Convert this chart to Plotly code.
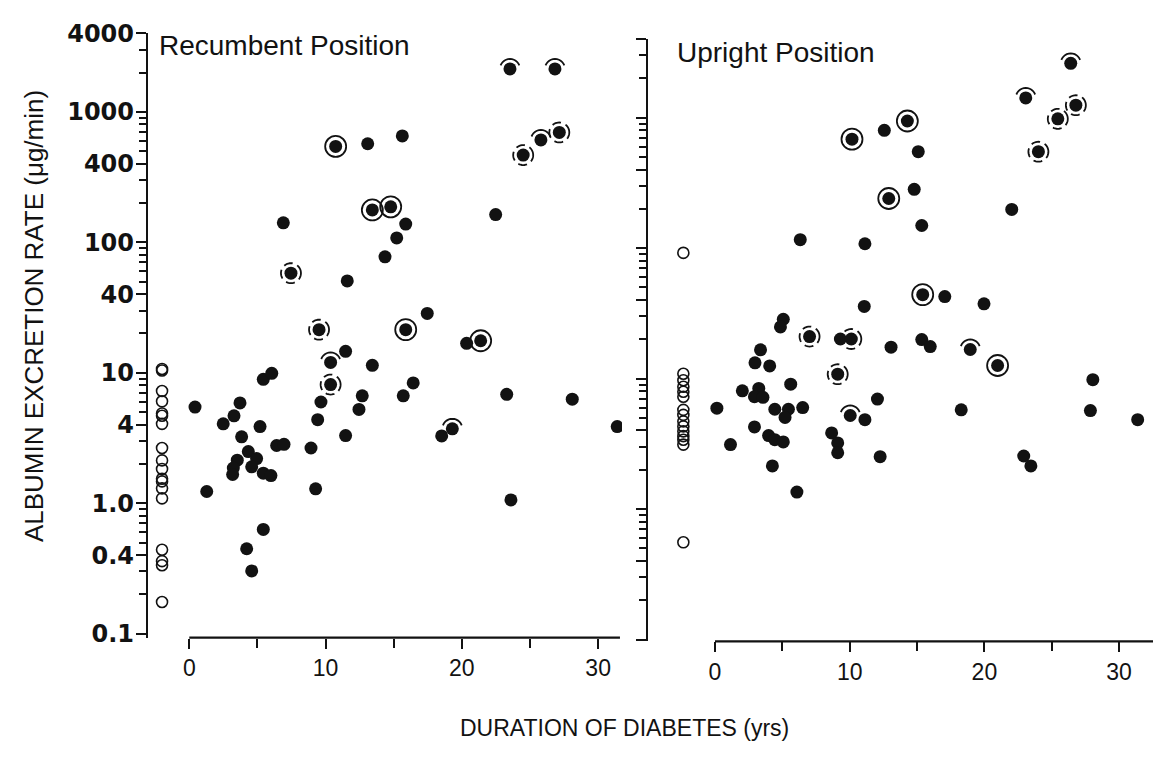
import numpy as np
import plotly.graph_objects as go

# ---------------- data ----------------
# Recumbent position (left panel): duration (yrs), albumin excretion rate (ug/min), marker kind
# kinds: S = plain dot, R = dot with full ring, D = dot with broken ring, A = dot with arc above
rec_years = [23.53, 26.83, 10.74, 13.09, 15.63, 24.50, 25.80, 27.15, 13.43, 14.78,
             6.90, 15.88, 15.22, 14.36, 22.48, 7.46, 11.59, 17.46, 9.52, 15.88,
             20.35, 21.38, 11.47, 10.37, 13.43, 10.37, 16.43, 15.70, 23.29, 28.10,
             12.69, 9.66, 12.45, 9.42, 11.47, 19.30, 18.52, 31.40, 8.93, 9.27,
             23.60, 0.42, 1.28, 3.72, 3.28, 2.49, 3.84, 5.19, 5.43, 6.05,
             6.41, 6.95, 4.33, 4.94, 3.52, 4.58, 3.23, 3.18, 5.43, 5.99,
             5.43, 4.21, 4.58]
rec_values = [2133, 2133, 543, 569, 653, 466, 609, 695, 177, 187,
              141, 138, 108, 77.4, 163, 58.0, 50.6, 28.5, 21.4, 21.4,
              16.8, 17.6, 14.6, 12.0, 11.4, 8.12, 8.36, 6.66, 6.84, 6.28,
              6.66, 5.97, 5.24, 4.37, 3.30, 3.72, 3.28, 3.87, 2.65, 1.29,
              1.06, 5.46, 1.23, 5.87, 4.68, 4.06, 3.23, 3.87, 8.91, 9.91,
              2.77, 2.83, 2.49, 2.20, 2.14, 1.90, 1.86, 1.66, 1.70, 1.63,
              0.63, 0.448, 0.303]
rec_kinds = ["A", "A", "R", "S", "S", "D", "A", "D", "R", "R",
             "S", "S", "S", "S", "S", "D", "S", "S", "D", "R",
             "S", "R", "S", "A", "S", "D", "S", "S", "S", "S",
             "S", "S", "S", "S", "S", "A", "S", "S", "S", "S",
             "S", "S", "S", "S", "S", "S", "S", "S", "S", "S",
             "S", "S", "S", "S", "S", "S", "S", "S", "S", "S",
             "S", "S", "S"]
rec_ctrl_year = -2.0
rec_ctrl_values = [10.7, 10.4, 7.25, 6.04, 4.87, 4.68, 4.06, 2.65, 2.13, 1.83,
                   1.54, 1.47, 1.30, 1.09, 0.44, 0.36, 0.335, 0.175]

# Upright position (right panel)
up_years = [26.41, 23.07, 26.79, 25.45, 24.01, 14.28, 12.57, 10.17, 15.09, 14.79,
            12.90, 22.03, 15.35, 6.33, 11.13, 15.42, 17.06, 19.97, 11.08, 5.07,
            4.86, 7.02, 9.31, 10.12, 13.07, 15.35, 15.98, 18.95, 20.98, 28.05,
            27.87, 31.38, 18.28, 22.92, 23.45, 3.38, 2.97, 4.06, 5.62, 2.03,
            3.25, 2.93, 3.56, 0.14, 4.44, 5.45, 5.20, 6.51, 9.11, 12.06,
            10.04, 11.13, 2.93, 3.98, 4.44, 5.07, 1.15, 8.66, 9.11, 9.11,
            12.26, 4.26, 6.08]
up_values = [2606, 1416, 1245, 979, 548, 942, 800, 684, 548, 282,
             240, 198, 149, 116, 108, 44.0, 42.5, 37.4, 35.7, 28.5,
             24.9, 21.0, 20.1, 20.1, 17.4, 19.9, 17.6, 16.7, 12.6, 9.81,
             5.69, 4.84, 5.76, 2.55, 2.14, 16.6, 13.2, 12.5, 9.06, 8.06,
             8.40, 7.26, 7.18, 5.93, 5.82, 5.82, 5.04, 5.99, 10.8, 6.97,
             5.21, 4.84, 4.26, 3.66, 3.40, 3.27, 3.12, 3.83, 3.21, 2.70,
             2.52, 2.14, 1.35]
up_kinds = ["A", "A", "D", "D", "D", "R", "S", "R", "S", "S",
            "R", "S", "S", "S", "S", "R", "S", "S", "S", "S",
            "S", "D", "S", "D", "S", "S", "S", "A", "R", "S",
            "S", "S", "S", "S", "S", "S", "S", "S", "S", "S",
            "S", "S", "S", "S", "S", "S", "S", "S", "D", "S",
            "A", "S", "S", "S", "S", "S", "S", "S", "S", "S",
            "S", "S", "S"]
up_ctrl_year = -2.35
up_ctrl_values = [92, 10.9, 9.71, 8.65, 7.93, 7.26, 5.76, 5.27, 4.70, 4.30,
                  3.94, 3.62, 3.40, 3.12, 0.556]

# axis ticks
y_tick_vals = [0.1, 0.4, 1, 4, 10, 40, 100, 400, 1000, 4000]
y_tick_text = ["0.1", "0.4", "1.0", "4", "10", "40", "100", "400", "1000", "4000"]
y_minor_vals = [d * 10.0 ** k for k in range(-1, 4) for d in range(1, 10)
                if d * 10.0 ** k <= 4000 and round(d * 10.0 ** k, 6) not in y_tick_vals]
x_tick_vals = [0, 10, 20, 30]
x_minor_vals = [5, 15, 25]

panel_titles = ["Recumbent Position", "Upright Position"]
y_title = "ALBUMIN EXCRETION RATE (μg/min)"
x_title = "DURATION OF DIABETES (yrs)"

# ---------------- figure ----------------
W, H = 1153, 757
INK = "#121212"

fig = go.Figure()


def glyph_path(a0, a1, n, r=10.0, close=False):
    pts = [(r * np.cos(a), r * np.sin(a)) for a in np.radians(np.linspace(a0, a1, n))]
    p = "M " + " L ".join(f"{px:.2f},{py:.2f}" for px, py in pts)
    return p + (" Z" if close else "")


ARC_PATH = glyph_path(160, 20, 13)
RING_PATH = glyph_path(0, 360, 49, close=True)


def add_panel(xa, ya, years, values, kinds, ctrl_x, ctrl_vals):
    xs = np.array(years)
    vs = np.array(values)
    ks = np.array(kinds)
    # control subjects (open circles)
    fig.add_trace(go.Scatter(x=[ctrl_x] * len(ctrl_vals), y=ctrl_vals, mode="markers",
                             xaxis=xa, yaxis=ya, hoverinfo="skip",
                             marker=dict(symbol="circle-open", size=11, color=INK,
                                         line=dict(width=1.6, color=INK))))
    # full rings
    m = ks == "R"
    fig.add_trace(go.Scatter(x=xs[m], y=vs[m], mode="markers", xaxis=xa, yaxis=ya,
                             hoverinfo="skip",
                             marker=dict(symbol="circle-open", size=21, color=INK,
                                         line=dict(width=1.8, color=INK))))
    # diabetic patients (filled dots)
    fig.add_trace(go.Scatter(x=xs, y=vs, mode="markers", xaxis=xa, yaxis=ya,
                             hoverinfo="skip",
                             marker=dict(symbol="circle", size=13, color=INK,
                                         line=dict(width=0))))
    xref = "x" if xa == "x" else "x2"
    yref = "y" if ya == "y" else "y2"
    for x, v, k in zip(xs, vs, ks):
        if k == "D":
            fig.add_shape(type="path", xref=xref, yref=yref,
                          xsizemode="pixel", ysizemode="pixel",
                          xanchor=x, yanchor=v, path=RING_PATH,
                          line=dict(color=INK, width=1.8, dash="9px,5px"))
        elif k == "A":
            fig.add_shape(type="path", xref=xref, yref=yref,
                          xsizemode="pixel", ysizemode="pixel",
                          xanchor=x, yanchor=v, path=ARC_PATH,
                          line=dict(color=INK, width=1.8))


add_panel("x", "y", rec_years, rec_values, rec_kinds, rec_ctrl_year, rec_ctrl_values)
add_panel("x2", "y2", up_years, up_values, up_kinds, up_ctrl_year, up_ctrl_values)

# x-axis baselines start at 0 years
fig.add_shape(type="line", xref="x", yref="y domain", x0=0, x1=31.6, y0=0, y1=0,
              line=dict(color=INK, width=2.2))
fig.add_shape(type="line", xref="x2", yref="y2 domain", x0=0, x1=32.6, y0=0, y1=0,
              line=dict(color=INK, width=2.2))

tick_font_x = dict(family="Liberation Sans, Arial, sans-serif", size=23, color=INK)
tick_font_y = dict(family="DejaVu Sans, sans-serif", size=24, color=INK, weight="bold")

xcommon = dict(showline=False, zeroline=False, showgrid=False, ticks="outside",
               tickmode="array", tickvals=x_tick_vals, ticklen=10, tickwidth=1.8,
               tickcolor=INK, tickfont=tick_font_x,
               minor=dict(tickmode="array", tickvals=x_minor_vals, ticks="outside",
                          ticklen=9, tickwidth=1.8, tickcolor=INK, showgrid=False))
ycommon = dict(type="log", showline=True, linewidth=2.4, linecolor=INK, zeroline=False,
               showgrid=False, ticks="outside", tickmode="array", tickvals=y_tick_vals,
               ticktext=y_tick_text, ticklen=10, tickwidth=1.8, tickcolor=INK,
               tickfont=tick_font_y, ticklabelstandoff=-3,
               minor=dict(tickmode="array", tickvals=y_minor_vals, ticks="outside",
                          ticklen=7, tickwidth=1.5, tickcolor=INK, showgrid=False))

fig.update_layout(
    width=W, height=H, margin=dict(l=0, r=0, t=0, b=0),
    paper_bgcolor="white", plot_bgcolor="white", showlegend=False,
    xaxis=dict(domain=[148 / W, 622 / W], range=[-3.03, 31.75], anchor="y", **xcommon),
    yaxis=dict(domain=[113 / H, 737.1 / H], range=[-1.0297, np.log10(4000)], anchor="x",
               showticklabels=True, **ycommon),
    xaxis2=dict(domain=[648 / W, 1.0], range=[-4.974, 32.517], anchor="y2", **xcommon),
    yaxis2=dict(domain=[109 / H, 731.1 / H], range=[-1.0148, np.log10(4000)], anchor="x2",
                showticklabels=False, **ycommon),
)

title_font = dict(family="Liberation Sans, Arial, sans-serif", size=28, color=INK)
fig.add_annotation(x=157 / W, y=1 - 33 / H, xref="paper", yref="paper", xanchor="left",
                   yanchor="middle", text=panel_titles[0], showarrow=False, font=title_font)
fig.add_annotation(x=675 / W, y=1 - 40 / H, xref="paper", yref="paper", xanchor="left",
                   yanchor="middle", text=panel_titles[1], showarrow=False, font=title_font)
fig.add_annotation(x=34 / W, y=1 - 312 / H, xref="paper", yref="paper", xanchor="center",
                   yanchor="middle", text=y_title, textangle=-90, showarrow=False,
                   font=dict(family="Liberation Sans, Arial, sans-serif", size=26, color=INK))
fig.add_annotation(x=624 / W, y=1 - 737 / H, xref="paper", yref="paper", xanchor="center",
                   yanchor="middle", text=x_title, showarrow=False,
                   font=dict(family="Liberation Sans, Arial, sans-serif", size=23, color=INK))

fig.write_html("out.html")
